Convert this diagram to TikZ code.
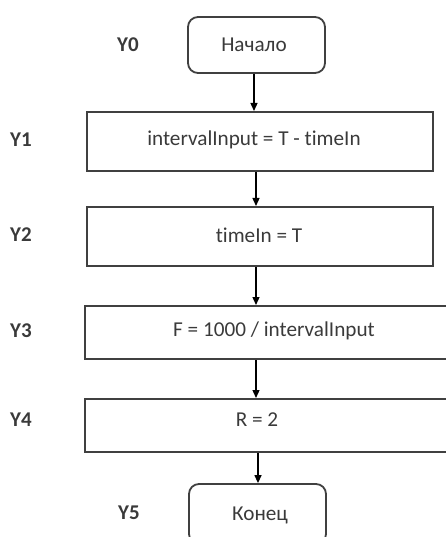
\documentclass[tikz,border=0pt]{standalone}
\usepackage{fontspec}
\setmainfont[RawFeature={-liga;-clig;-dlig}]{Carlito}
\usetikzlibrary{arrows.meta}
\definecolor{boxline}{HTML}{404040}
\definecolor{txt}{HTML}{3A3A3A}
\tikzset{
  procbox/.style={draw=boxline, line width=2pt, rectangle, inner sep=0pt},
  termbox/.style={draw=boxline, line width=1.8pt, rectangle, rounded corners=10pt, inner sep=0pt},
  lbl/.style={text=txt, font=\fontsize{21.2}{25}\selectfont, inner sep=0pt},
  ylbl/.style={text=txt, font=\fontsize{21}{25}\selectfont\bfseries, inner sep=0pt},
  flow/.style={draw=black, line width=1.3pt, -{Triangle[length=8pt,width=7pt]}}
}
\begin{document}
\begin{tikzpicture}[x=1pt,y=-1pt]
\useasboundingbox (0,0) rectangle (446,537);
\clip (0,0) rectangle (446,537);
% boxes
\node[termbox, minimum width=137pt, minimum height=56pt] (b0) at (256.5,45) {};
\node[procbox, minimum width=346pt, minimum height=59pt] (b1) at (260,141.5) {};
\node[procbox, minimum width=346pt, minimum height=59pt] (b2) at (260,236.5) {};
\node[procbox, minimum width=380pt, minimum height=53pt] (b3) at (275,332.5) {};
\node[procbox, minimum width=380pt, minimum height=53pt] (b4) at (275,425.5) {};
\node[termbox, minimum width=137pt, minimum height=60pt] (b5) at (257.5,514) {};
% texts
\node[lbl] (t0) at (254,45) {Начало};
\node[lbl] (t1) at (254,140) {intervalInput = T - timeIn};
\node[lbl] (t2) at (259,235) {timeIn = T};
\node[lbl] (t3) at (274,331) {F = 1000 / intervalInput};
\node[lbl] (t4) at (257,420) {R = 2};
\node[lbl] (t5) at (260,515) {Конец};
% side labels
\node[ylbl] (y0) at (128,45) {Y0};
\node[ylbl] (y1) at (21,140) {Y1};
\node[ylbl] (y2) at (21,235) {Y2};
\node[ylbl] (y3) at (21,331) {Y3};
\node[ylbl] (y4) at (21,420) {Y4};
\node[ylbl] (y5) at (129,513) {Y5};
% connectors
\draw[flow] (b0.south -| 254,0) -- (b1.north -| 254,0);
\draw[flow] (b1.south -| 256,0) -- (b2.north -| 256,0);
\draw[flow] (b2.south -| 256,0) -- (b3.north -| 256,0);
\draw[flow] (b3.south -| 256,0) -- (b4.north -| 256,0);
\draw[flow] (b4.south -| 258,0) -- (b5.north -| 258,0);
\end{tikzpicture}
\end{document}
